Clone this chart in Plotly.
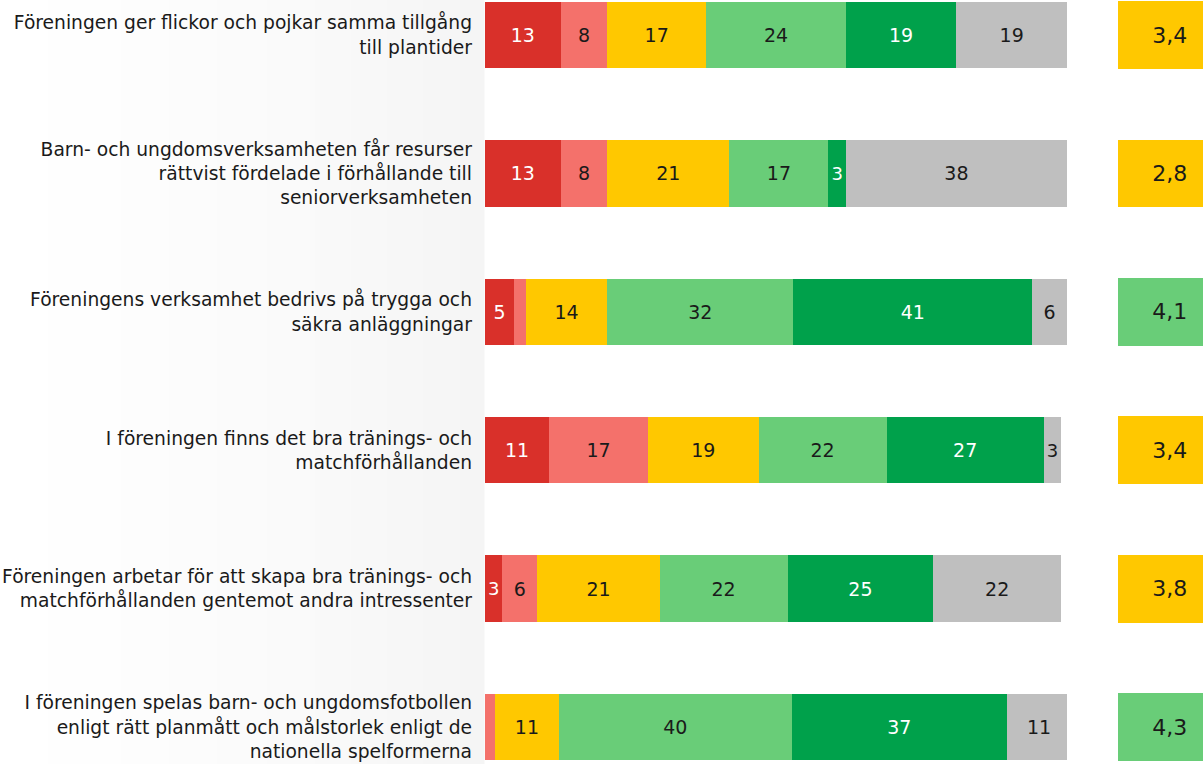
import plotly.graph_objects as go

# Survey statements (y categories)
statements = [
    'Föreningen ger flickor och pojkar samma tillgång<br>till plantider',
    'Barn- och ungdomsverksamheten får resurser<br>rättvist fördelade i förhållande till<br>seniorverksamheten',
    'Föreningens verksamhet bedrivs på trygga och<br>säkra anläggningar',
    'I föreningen finns det bra tränings- och<br>matchförhållanden',
    'Föreningen arbetar för att skapa bra tränings- och<br>matchförhållanden gentemot andra intressenter',
    'I föreningen spelas barn- och ungdomsfotbollen<br>enligt rätt planmått och målstorlek enligt de<br>nationella spelformerna',
]

# Share of answers (%) per answer category
stammer_inte = [13, 13, 5, 11, 3, 0]
stammer_daligt = [8, 8, 2, 17, 6, 1.7]
stammer_delvis = [17, 21, 14, 19, 21, 11]
stammer_ganska = [24, 17, 32, 22, 22, 40]
stammer_helt = [19, 3, 41, 27, 25, 37]
vet_ej = [19, 38, 6, 3, 22, 11]

# Average score per statement
scores = [3.4, 2.8, 4.1, 3.4, 3.8, 4.3]

series = [
    (stammer_inte, '#d9302a', 'white'),
    (stammer_daligt, '#f4716b', '#1a1a1a'),
    (stammer_delvis, '#ffc800', '#1a1a1a'),
    (stammer_ganska, '#69cd78', '#1a1a1a'),
    (stammer_helt, '#00a14b', 'white'),
    (vet_ej, '#bfbfbf', '#1a1a1a'),
]

font = 'DejaVu Sans'
fig = go.Figure()

for vals, color, txtcol in series:
    fig.add_trace(go.Bar(
        y=statements, x=vals, orientation='h',
        marker=dict(color=color, line=dict(width=0)),
        width=0.48,
        text=[str(v) if v >= 2.5 else '' for v in vals],
        textposition='inside', insidetextanchor='middle',
        textangle=0,
        insidetextfont=dict(family=font, size=19, color=txtcol),
        hoverinfo='skip', showlegend=False,
    ))

# score boxes on a second x axis at the right (box runs past the right edge)
fig.add_trace(go.Bar(
    y=statements, x=[1] * len(scores), orientation='h',
    xaxis='x2',
    marker=dict(color=['#69cd78' if s >= 4 else '#ffc800' for s in scores],
                line=dict(width=0)),
    width=0.49,
    text=[f'{s:.1f}'.replace('.', ',') for s in scores],
    textposition='inside', insidetextanchor='middle', textangle=0,
    insidetextfont=dict(family=font, size=22, color='#1a1a1a'),
    hoverinfo='skip', showlegend=False,
))

# very light grey gradient behind the labels
shapes = []
steps = 40
x_start, x_end = 0, 484
for i in range(steps):
    p0 = x_start + (x_end - x_start) * i / steps
    p1 = x_start + (x_end - x_start) * (i + 1) / steps + 0.5
    g = round(255 - 10 * ((i + 1) / steps) ** 1.4)
    shapes.append(dict(type='rect', xref='paper', yref='paper',
                       x0=(p0 - 485) / 718, x1=(p1 - 485) / 718, y0=0, y1=1,
                       fillcolor=f'rgb({g},{g},{g})', line=dict(width=0),
                       layer='below'))

fig.update_layout(
    width=1203, height=764,
    margin=dict(l=485, r=0, t=0, b=0, autoexpand=False),
    barmode='stack',
    paper_bgcolor='white', plot_bgcolor='rgba(0,0,0,0)',
    shapes=shapes,
    xaxis=dict(domain=[0, 582 / 718], range=[0, 100], visible=False, automargin=False),
    xaxis2=dict(domain=[633 / 718, 1], range=[0, 0.82], visible=False, anchor='y',
                automargin=False),
    yaxis=dict(range=[5.267, -0.253], showgrid=False, zeroline=False, showline=False,
               ticks='', ticklabelstandoff=12, automargin=False,
               tickfont=dict(family=font, size=18.7, color='#1a1a1a')),
)

fig.write_html('out.html', config={'displayModeBar': False},
               post_script="document.body.style.margin='0';document.body.style.overflow='hidden';")
